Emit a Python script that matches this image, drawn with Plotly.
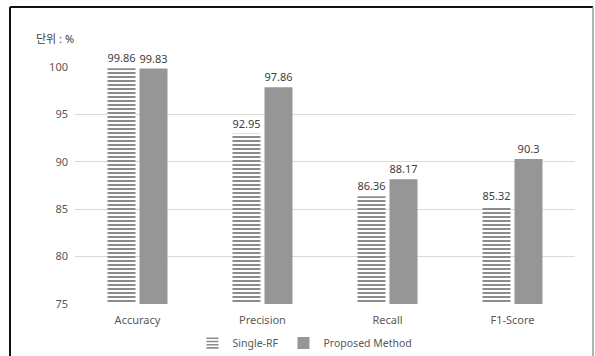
import plotly.graph_objects as go

# Evaluation metrics (%) for the two classifiers
categories = ["Accuracy", "Precision", "Recall", "F1-Score"]
single_rf = [99.86, 92.95, 86.36, 85.32]
proposed = [99.83, 97.86, 88.17, 90.3]
y_ticks = [75, 80, 85, 90, 95, 100]

FONT = "Noto Sans, Noto Sans CJK KR, sans-serif"
LABEL_COLOR = "#404040"
TICK_COLOR = "#595959"

fig = go.Figure()
fig.add_trace(go.Bar(
    name="Single-RF",
    x=categories,
    y=single_rf,
    marker=dict(
        color="white",
        line=dict(width=0),
        pattern=dict(shape="-", size=4, solidity=0.5,
                     fgcolor="#8c8c8c", bgcolor="white", fillmode="replace"),
    ),
    text=[str(v) for v in single_rf],
    textposition="outside",
    textfont=dict(size=11, color=LABEL_COLOR, family=FONT),
    cliponaxis=False,
))
fig.add_trace(go.Bar(
    name="Proposed Method",
    x=categories,
    y=proposed,
    marker=dict(color="#969696", line=dict(width=0)),
    text=[str(v) for v in proposed],
    textposition="outside",
    textfont=dict(size=11, color=LABEL_COLOR, family=FONT),
    cliponaxis=False,
))

# Outer chart frame: dark top/left edges, light right edge
frame = [
    dict(x0=-0.13, x1=1.036, y0=1.253, y1=1.253, color="#111111", w=2),
    dict(x0=-0.13, x1=-0.13, y0=1.253, y1=-0.3, color="#111111", w=2),
    dict(x0=1.036, x1=1.036, y0=1.253, y1=-0.3, color="#9a9a9a", w=1.5),
]
shapes = [
    dict(type="line", xref="paper", yref="paper",
         x0=f["x0"], x1=f["x1"], y0=f["y0"], y1=f["y1"],
         line=dict(color=f["color"], width=f["w"]))
    for f in frame
]

fig.update_layout(
    width=595,
    height=356,
    margin=dict(l=75, r=20, t=67, b=52, autoexpand=False),
    paper_bgcolor="white",
    plot_bgcolor="white",
    font=dict(family=FONT, size=11, color=TICK_COLOR),
    barmode="group",
    bargap=0.488,
    bargroupgap=0.125,
    shapes=shapes,
    showlegend=True,
    legend=dict(
        orientation="h",
        x=0.46, xanchor="center",
        y=-0.165, yanchor="middle",
        font=dict(size=10.5, color=TICK_COLOR, family=FONT),
        itemwidth=30,
        tracegroupgap=0,
        traceorder="normal",
    ),
    annotations=[dict(
        text="단위 : %",
        xref="paper", yref="paper",
        x=-0.082, y=1.122,
        xanchor="left", yanchor="middle",
        showarrow=False,
        font=dict(size=11, color=LABEL_COLOR, family=FONT),
    )],
)
fig.update_xaxes(
    showgrid=False,
    showline=False,
    ticks="",
    ticklabelstandoff=8,
    tickfont=dict(size=11, color=TICK_COLOR),
)
fig.update_yaxes(
    range=[75, 100],
    tickvals=y_ticks,
    showgrid=True,
    gridcolor="#d9d9d9",
    gridwidth=1,
    zeroline=False,
    showline=False,
    ticks="",
    ticklabelstandoff=6,
    tickfont=dict(size=11, color=TICK_COLOR),
)

fig.write_html("out.html")
